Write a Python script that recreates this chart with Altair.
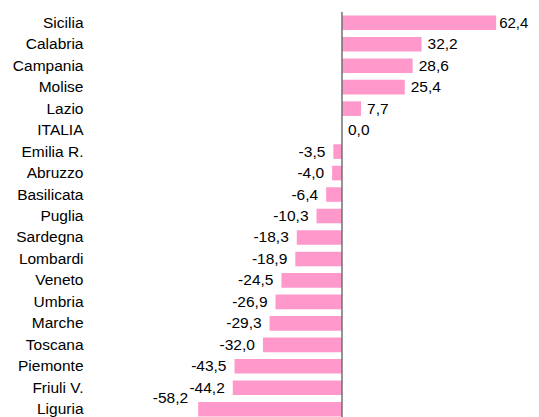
import altair as alt
import pandas as pd

regions = ["Sicilia", "Calabria", "Campania", "Molise", "Lazio", "ITALIA",
           "Emilia R.", "Abruzzo", "Basilicata", "Puglia", "Sardegna", "Lombardi",
           "Veneto", "Umbria", "Marche", "Toscana", "Piemonte", "Friuli V.", "Liguria"]
values = [62.4, 32.2, 28.6, 25.4, 7.7, 0.0, -3.5, -4.0, -6.4, -10.3, -18.3, -18.9,
          -24.5, -26.9, -29.3, -32.0, -43.5, -44.2, -58.2]
labels = [f"{v:.1f}".replace(".", ",") for v in values]

df = pd.DataFrame({"region": regions, "value": values, "label": labels})

FONT = "Liberation Sans"
PINK = "#FF99CC"
FS = 15.5

y_enc = alt.Y("region:N", sort=regions,
              scale=alt.Scale(paddingInner=0.32, paddingOuter=0.16),
              axis=alt.Axis(title=None, ticks=False, domain=False, labelPadding=67,
                            labelFont=FONT, labelFontSize=FS, labelColor="#000000",
                            grid=False))
x_scale = alt.Scale(domain=[-77.7, 76.5], nice=False, zero=False)
x_enc = alt.X("value:Q", scale=x_scale, axis=None)
y_plain = alt.Y("region:N", sort=regions)

base = alt.Chart(df)

bars = base.mark_bar(color=PINK).encode(x=x_enc, x2=alt.datum(0), y=y_enc)

pos_text = base.transform_filter("datum.value >= 0 && datum.region != 'Sicilia'").mark_text(
    align="left", baseline="middle", dx=6, font=FONT, fontSize=FS, color="#000000"
).encode(x=x_enc, y=y_plain, text="label:N")

top_text = base.transform_filter("datum.region == 'Sicilia'").mark_text(
    align="left", baseline="middle", dx=3, font=FONT, fontSize=15, color="#000000"
).encode(x=x_enc, y=y_plain, text="label:N")

neg_text = base.transform_filter("datum.value < 0 && datum.region != 'Liguria'").mark_text(
    align="right", baseline="middle", dx=-8, font=FONT, fontSize=FS, color="#000000"
).encode(x=x_enc, y=y_plain, text="label:N")

lig_text = base.transform_filter("datum.region == 'Liguria'").mark_text(
    align="right", baseline="middle", dx=-10, dy=-11, font=FONT, fontSize=FS, color="#000000"
).encode(x=x_enc, y=y_plain, text="label:N")

zero_rule = alt.Chart(pd.DataFrame({"z": [0.0]})).mark_rule(
    color="#707070", strokeWidth=1.5
).encode(x=alt.X("z:Q", scale=x_scale, axis=None))

chart = alt.layer(bars, zero_rule, pos_text, top_text, neg_text, lig_text).properties(
    width=381, height=408,
    autosize=alt.AutoSizeParams(type="none"),
    padding={"left": 142, "top": 4, "right": 0, "bottom": 0},
).configure_view(stroke=None)

chart.save("out.html", embed_options={"renderer": "svg", "actions": False})
